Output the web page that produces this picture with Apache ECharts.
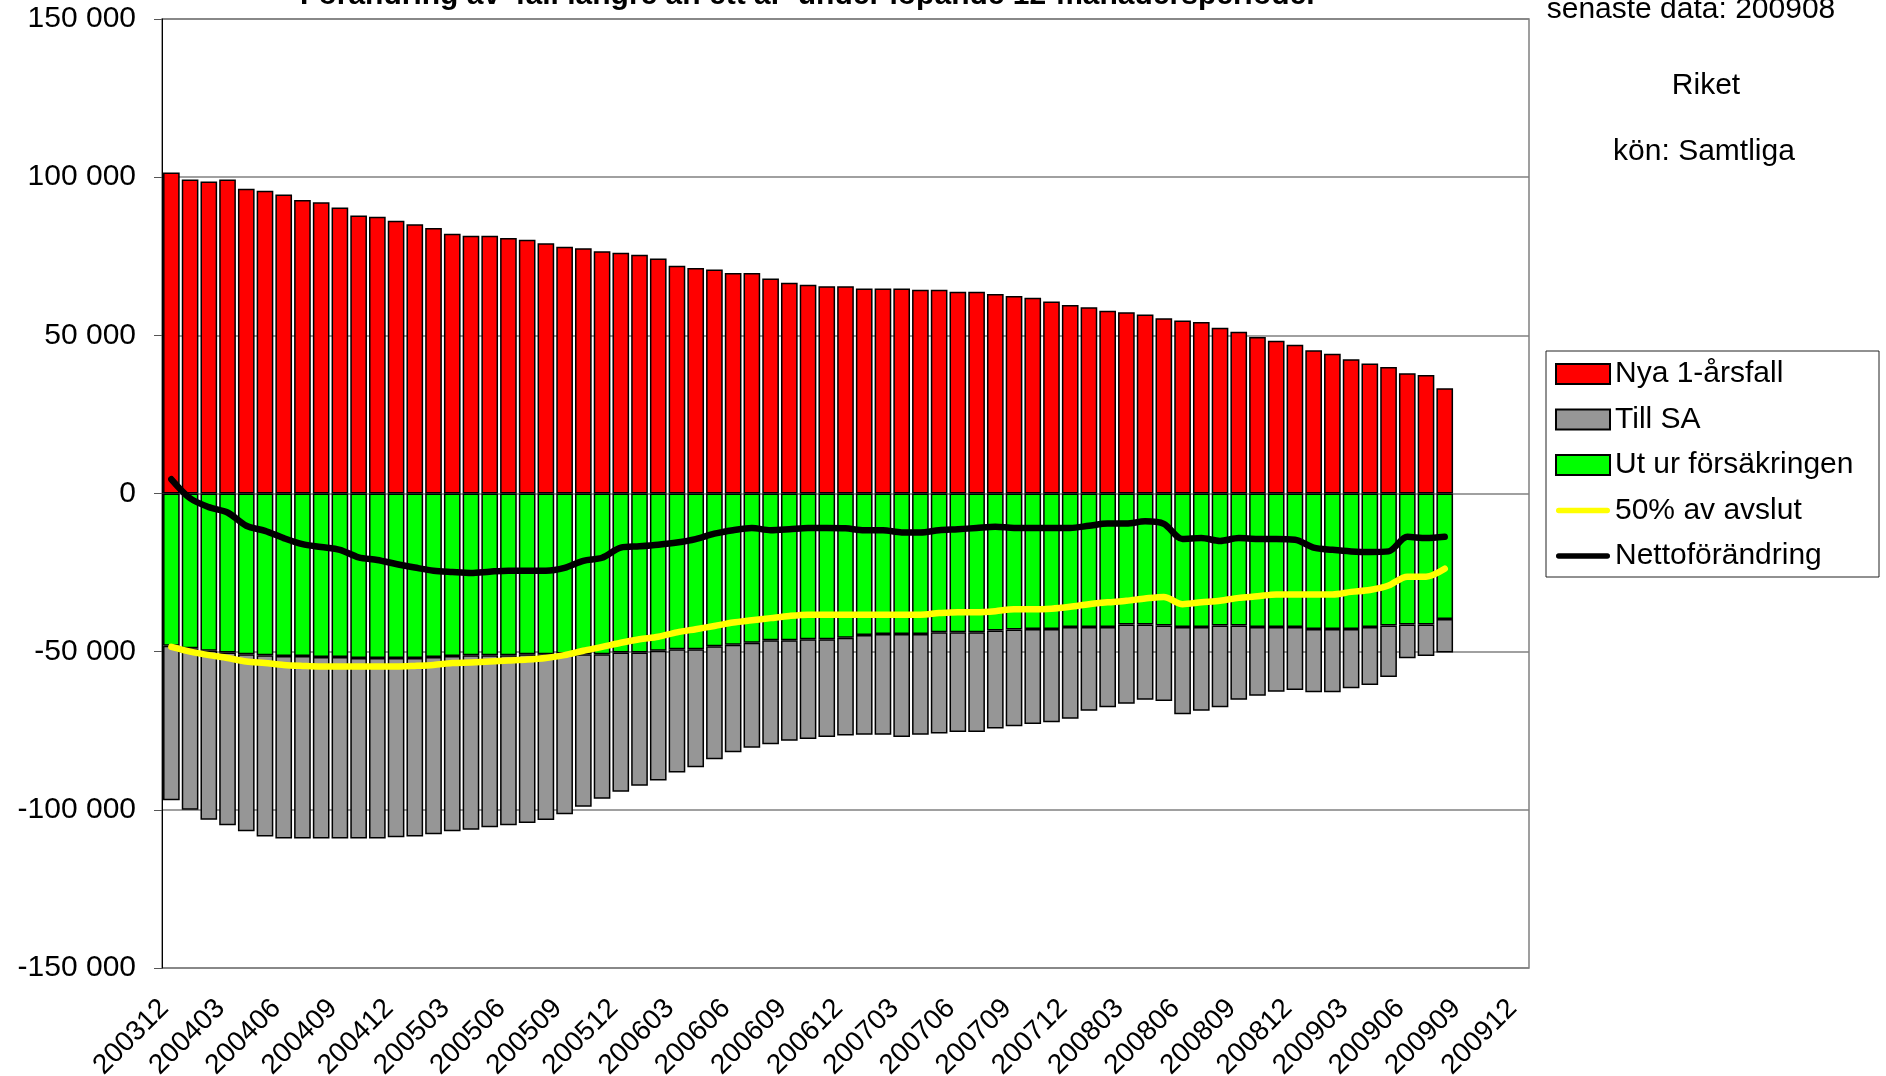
<!DOCTYPE html>
<html>
<head>
<meta charset="UTF-8">
<title>Förändring av fall längre än ett år</title>
<script src="https://cdn.jsdelivr.net/npm/echarts@6/dist/echarts.min.js"></script>
<style>
html, body { margin: 0; padding: 0; background: #fff; }
#main { width: 1886px; height: 1076px; }
</style>
</head>
<body>
<div id="main"></div>
<script type="text/javascript">
// months on the axis, 200312..200912 (data ends 200908)
var months = [
  '200312',
  '200401','200402','200403','200404','200405','200406','200407','200408','200409','200410','200411','200412',
  '200501','200502','200503','200504','200505','200506','200507','200508','200509','200510','200511','200512',
  '200601','200602','200603','200604','200605','200606','200607','200608','200609','200610','200611','200612',
  '200701','200702','200703','200704','200705','200706','200707','200708','200709','200710','200711','200712',
  '200801','200802','200803','200804','200805','200806','200807','200808','200809','200810','200811','200812',
  '200901','200902','200903','200904','200905','200906','200907','200908','200909','200910','200911','200912'
];

var nya = [
  101500, 99300, 98600, 99300, 96300, 95700, 94500, 92800, 92100, 90400,
  87900, 87500, 86200, 85100, 83900, 82100, 81500, 81500, 80800, 80200,
  79100, 78000, 77500, 76600, 76100, 75500, 74300, 72000, 71300, 70800,
  69700, 69700, 68000, 66600, 66000, 65500, 65500, 64800, 64800, 64800,
  64400, 64400, 63800, 63800, 63100, 62400, 61900, 60700, 59600, 58900,
  57800, 57300, 56600, 55400, 54700, 54200, 52400, 51100, 49500, 48300,
  47000, 45300, 44200, 42400, 41100, 40000, 38000, 37500, 33300
];

var utUr = [
  -48100, -48900, -49700, -50300, -50800, -51100, -51400, -51400, -51700, -51700,
  -52000, -52000, -52000, -52000, -51700, -51400, -51100, -51100, -51100, -50800,
  -50800, -50600, -50800, -50800, -50300, -50300, -49700, -49200, -49200, -48300,
  -47800, -47200, -46400, -46400, -46100, -46100, -45600, -44700, -44400, -44400,
  -44400, -43900, -43900, -43900, -43300, -43000, -42800, -42800, -42200, -42200,
  -42200, -41400, -41400, -41700, -42200, -42200, -41700, -41700, -42200, -42200,
  -42200, -42800, -42800, -42800, -42200, -41700, -41400, -41400, -39700
];

var tillSA = [
  -48900, -51100, -53400, -54600, -56000, -57300, -57700, -57700, -57400, -57400,
  -57100, -57100, -56700, -56400, -56000, -55400, -55200, -54400, -53800, -53400,
  -52400, -50800, -48200, -45700, -44000, -42100, -41000, -39000, -37300, -35700,
  -34000, -33200, -32900, -31800, -31500, -30900, -30900, -31600, -31900, -32600,
  -31900, -32000, -31500, -31500, -31000, -30600, -30100, -29500, -29000, -26500,
  -25400, -25100, -23800, -23900, -27600, -26500, -25900, -23500, -21700, -20500,
  -19900, -20000, -20000, -18800, -18300, -16300, -10700, -10000, -10600
];

var halvAvslut = [
  -48500, -50000, -51100, -52000, -53100, -53600, -54200, -54500, -54700, -54700,
  -54700, -54700, -54700, -54500, -54200, -53600, -53400, -53100, -52800, -52500,
  -52000, -51100, -49700, -48500, -47200, -46100, -45300, -43900, -42900, -41900,
  -40800, -40100, -39400, -38700, -38300, -38300, -38300, -38300, -38300, -38300,
  -38300, -37800, -37500, -37500, -37200, -36600, -36600, -36400, -35800, -35000,
  -34400, -33900, -33200, -32700, -35000, -34400, -33900, -33000, -32500, -31900,
  -31900, -31900, -31900, -31100, -30500, -29100, -26300, -26300, -23800
];

var netto = [
  4500, -1500, -4300, -6000, -10200, -11800, -14100, -16000, -16900, -17800,
  -20200, -21000, -22300, -23400, -24400, -24800, -25100, -24700, -24400, -24400,
  -24400, -23500, -21300, -20300, -17100, -16700, -16200, -15500, -14400, -12700,
  -11600, -10900, -11600, -11300, -10900, -10900, -11000, -11600, -11600, -12300,
  -12300, -11600, -11300, -10900, -10500, -10900, -10900, -10900, -10900, -10200,
  -9500, -9500, -8800, -9600, -14400, -14100, -15000, -14100, -14400, -14400,
  -14600, -17100, -17800, -18300, -18500, -18300, -13700, -14100, -13700
];

var titel = "Förändring av 'fall längre än ett år' under löpande 12-månadersperioder";
var infoRader = ['senaste data: 200908', 'Riket', 'kön: Samtliga'];

var font = '"Liberation Sans", Arial, sans-serif';
var myChart = echarts.init(document.getElementById('main'));

function tusental(v) {
  return String(v).replace(/\B(?=(\d{3})+(?!\d))/g, ' ');
}

var barBorder = { borderColor: '#000', borderWidth: 1.5 };
// thick line with round ends for the legend
var linjeIkon = 'path://M3,0 L57,0 A3,3 0 0 1 57,6 L3,6 A3,3 0 0 1 3,0 Z';

myChart.setOption({
  animation: false,
  textStyle: { fontFamily: font },
  grid: {
    left: 162, top: 19, right: 357, bottom: 108,
    outerBoundsMode: 'none',
    show: true, borderColor: '#808080', borderWidth: 1.5
  },
  legend: {
    orient: 'vertical',
    left: 1555, top: 359,
    padding: 0,
    itemWidth: 54, itemHeight: 20, itemGap: 15.5,
    selectedMode: false,
    textStyle: { fontSize: 30, lineHeight: 30, color: '#000', fontFamily: font },
    data: [
      { name: 'Nya 1-årsfall', icon: 'rect' },
      { name: 'Till SA', icon: 'rect' },
      { name: 'Ut ur försäkringen', icon: 'rect' },
      { name: '50% av avslut', icon: linjeIkon },
      { name: 'Nettoförändring', icon: linjeIkon }
    ]
  },
  graphic: [
    { type: 'text', x: 809, y: -4, style: { text: titel, font: 'bold 30px ' + font, fill: '#000', textAlign: 'center', textVerticalAlign: 'middle' } },
    { type: 'text', x: 1691, y: 10, style: { text: infoRader[0], font: '30px ' + font, fill: '#000', textAlign: 'center', textVerticalAlign: 'middle' } },
    { type: 'text', x: 1706, y: 86, style: { text: infoRader[1], font: '30px ' + font, fill: '#000', textAlign: 'center', textVerticalAlign: 'middle' } },
    { type: 'text', x: 1704, y: 152, style: { text: infoRader[2], font: '30px ' + font, fill: '#000', textAlign: 'center', textVerticalAlign: 'middle' } },
    { type: 'rect', shape: { x: 1546, y: 351, width: 333, height: 226 }, style: { fill: 'none', stroke: '#222', lineWidth: 1 } }
  ],
  xAxis: {
    type: 'category',
    data: months,
    boundaryGap: true,
    axisLine: { show: false, onZero: false },
    axisTick: { show: false },
    axisLabel: { interval: 2, rotate: 45, fontSize: 28, color: '#000', margin: 29, padding: [0, 10, 0, 0] },
    splitLine: { show: false }
  },
  yAxis: {
    type: 'value',
    min: -150000, max: 150000, interval: 50000,
    axisLine: { show: true, lineStyle: { color: '#000', width: 1 } },
    axisTick: { show: true, length: 8, lineStyle: { color: '#555' } },
    axisLabel: { fontSize: 30, color: '#000', margin: 26, formatter: tusental },
    splitLine: { show: true, lineStyle: { color: '#808080', width: 1.5 } }
  },
  series: [
    { name: 'Nya 1-årsfall', type: 'bar', stack: 'fall', data: nya, barCategoryGap: '11%',
      itemStyle: Object.assign({ color: '#ff0000' }, barBorder) },
    { name: 'Ut ur försäkringen', type: 'bar', stack: 'fall', data: utUr,
      itemStyle: Object.assign({ color: '#00ff00' }, barBorder) },
    { name: 'Till SA', type: 'bar', stack: 'fall', data: tillSA,
      itemStyle: Object.assign({ color: '#969696' }, barBorder) },
    { name: '50% av avslut', type: 'line', data: halvAvslut, symbol: 'none', smooth: 0.3, z: 5,
      itemStyle: { color: '#ffff00' },
      lineStyle: { color: '#ffff00', width: 6.5, cap: 'round', join: 'round' } },
    { name: 'Nettoförändring', type: 'line', data: netto, symbol: 'none', smooth: 0.3, z: 6,
      itemStyle: { color: '#000' },
      lineStyle: { color: '#000', width: 6.5, cap: 'round', join: 'round' } }
  ]
});
</script>
</body>
</html>
